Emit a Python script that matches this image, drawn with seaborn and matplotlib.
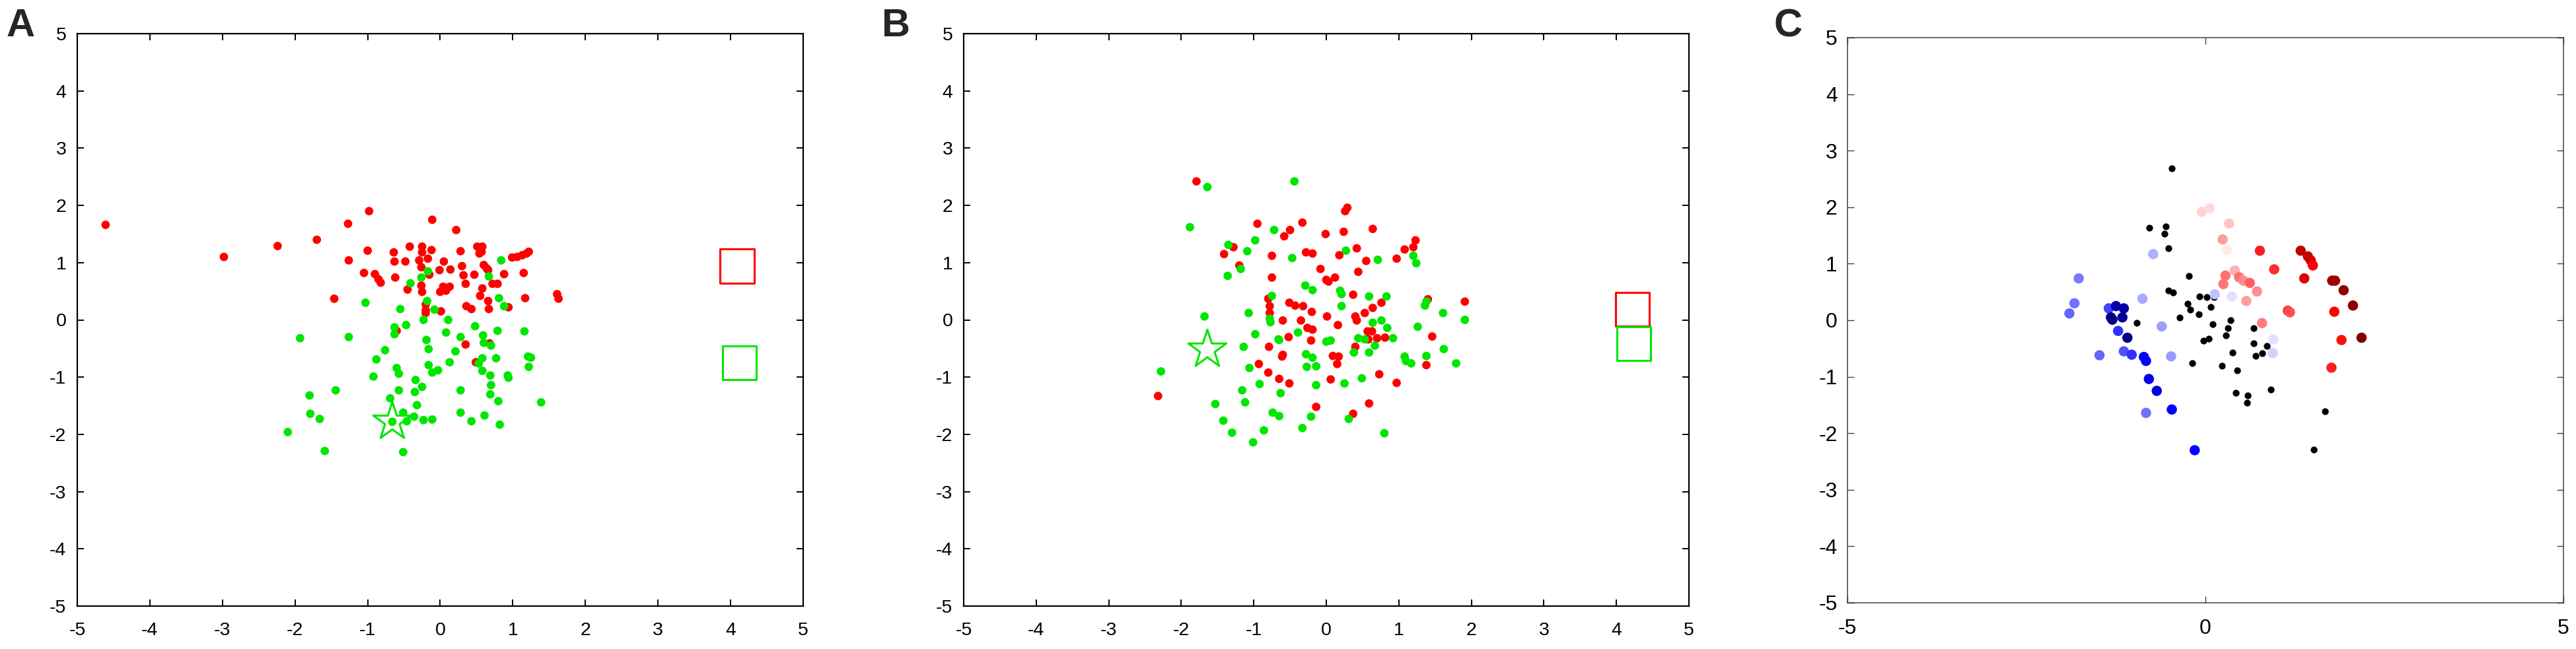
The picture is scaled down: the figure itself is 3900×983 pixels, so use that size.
import numpy as np
import pandas as pd
import matplotlib
matplotlib.use("Agg")
import matplotlib.pyplot as plt
import seaborn as sns

# ---------------- Panel A data ----------------
a_red_x = [-4.61, -2.98, -2.24, -1.70, -1.46, -1.27, -1.26, -0.98, -1.00, -1.05, -0.90, -0.85, -0.82,
           -0.64, -0.63, -0.62, -0.48, -0.45, -0.42, -0.29, -0.25, -0.25, -0.26, -0.26, -0.25, -0.20,
           -0.20, -0.20, -0.17, -0.12, -0.11, -0.15, -0.01, 0.00, 0.04, 0.05, 0.08, 0.13, 0.14, 0.01,
           0.22, 0.28, 0.30, 0.32, 0.35, 0.36, 0.43, 0.47, 0.51, 0.54, 0.58, 0.57, 0.55, 0.58, 0.60,
           0.64, 0.66, 0.66, 0.67, 0.72, 0.79, 0.88, 0.94, 0.99, 1.06, 1.13, 1.19, 1.22, 1.15, 1.17,
           1.61, 1.63, -0.60, 0.35, 0.49, 0.68]
a_red_y = [1.66, 1.10, 1.29, 1.40, 0.37, 1.68, 1.04, 1.90, 1.21, 0.82, 0.80, 0.71, 0.65,
           1.18, 1.02, 0.74, 1.02, 0.53, 1.28, 1.04, 1.28, 1.18, 0.92, 0.60, 0.49, 0.27,
           0.17, 0.12, 1.07, 1.22, 1.75, 0.79, 0.87, 0.49, 0.58, 1.02, 0.51, 0.58, 0.88, 0.15,
           1.57, 1.20, 0.94, 0.78, 0.63, 0.24, 0.19, 0.79, 1.28, 1.16, 1.28, 1.19, 0.42, 0.55, 0.96,
           0.90, 0.87, 0.33, 0.19, 0.63, 0.63, 0.80, 0.22, 1.09, 1.10, 1.13, 1.16, 1.19, 0.82, 0.38,
           0.45, 0.37, -0.19, -0.43, -0.74, -0.41]
a_green_x = [0.84, -0.17, -0.26, -0.41, -0.18, -1.03, -0.55, -0.08, 0.67, 0.81, 0.88, -0.23, 0.11,
             -0.47, -0.63, -0.63, -1.93, -1.26, -0.19, -0.16, 0.08, 0.28, 0.48, 0.59, 0.60, 0.70,
             0.79, 1.16, -0.76, -0.88, 0.21, 0.13, 0.77, 0.58, 0.53, 1.21, 1.25, 1.22, -0.16, -0.03,
             -0.11, 0.58, 0.69, -0.92, -0.60, -0.57, 0.93, 0.94, -0.34, 0.70, -0.25, -0.35, -0.57,
             0.28, 0.69, -1.44, -1.80, -0.69, -0.32, 0.80, 1.39, -1.79, -1.66, -0.51, -0.36, -0.66,
             -0.46, -0.23, -0.11, 0.28, 0.43, 0.61, 0.82, -2.10, -1.59, -0.51]
a_green_y = [1.04, 0.85, 0.74, 0.64, 0.33, 0.30, 0.19, 0.18, 0.76, 0.38, 0.24, 0.00, 0.00,
             -0.09, -0.13, -0.25, -0.32, -0.30, -0.35, -0.51, -0.22, -0.30, -0.11, -0.27, -0.40, -0.45,
             -0.19, -0.20, -0.53, -0.69, -0.55, -0.74, -0.67, -0.67, -0.76, -0.64, -0.66, -0.82, -0.79, -0.88,
             -0.92, -0.89, -0.97, -0.99, -0.84, -0.94, -0.97, -1.01, -1.05, -1.14, -1.17, -1.26, -1.23,
             -1.23, -1.30, -1.23, -1.32, -1.37, -1.49, -1.42, -1.44, -1.64, -1.73, -1.62, -1.69, -1.78,
             -1.77, -1.75, -1.74, -1.62, -1.77, -1.67, -1.83, -1.96, -2.29, -2.31]
a_star = (-0.66, -1.78)
a_red_square = (4.09, 0.94)
a_green_square = (4.12, -0.75)

# ---------------- Panel B data ----------------
b_red_x = [-1.79, -2.32, -1.41, -1.28, -1.20, -0.95, -0.75, -0.75, -0.80, -0.78, -0.78, -0.79, -0.93,
           -0.80, -0.65, -0.51, -0.61, -0.60, -0.60, -0.58, -0.50, -0.51, -0.43, -0.52, -0.35, -0.33,
           -0.28, -0.19, -0.32, -0.26, -0.20, -0.19, -0.21, -0.14, -0.08, -0.01, 0.00, 0.03, 0.01,
           0.12, 0.09, 0.17, 0.15, 0.16, 0.06, 0.18, 0.24, 0.26, 0.29, 0.37, 0.37, 0.40, 0.42, 0.40,
           0.42, 0.44, 0.53, 0.55, 0.57, 0.63, 0.58, 0.64, 0.64, 0.59, 0.70, 0.73, 0.76, 0.81, 0.97,
           0.97, 1.08, 1.20, 1.23, 1.40, 1.46, 1.38, 1.91]
b_red_y = [2.42, -1.33, 1.15, 1.27, 0.95, 1.68, 1.12, 0.74, 0.37, 0.24, 0.12, -0.47, -0.77,
           -0.92, -1.03, -1.11, -0.64, -0.61, -0.01, 1.46, 1.57, 0.30, 0.25, -0.30, -0.01, 1.70,
           1.18, 1.16, 0.24, -0.14, 0.14, -0.17, -0.36, -1.52, 0.89, 1.50, 0.70, 0.67, 0.06,
           0.74, -0.63, -0.64, -0.77, -0.09, -1.04, 1.13, 1.54, 1.90, 1.96, 0.44, -1.64, 0.06, -0.01, -0.47,
           1.25, 0.84, 0.12, 1.03, -0.20, -0.20, -0.34, 0.21, 1.59, -1.46, -0.32, -0.95, 0.30, -0.31, 1.07,
           -1.10, 1.23, 1.27, 1.39, 0.36, -0.29, -0.79, 0.32]
b_green_x = [-0.44, -1.64, -1.88, -1.35, -1.09, -1.18, -1.36, -0.98, -0.72, -0.47, -0.75, -0.29, -0.19,
             0.27, 0.19, 0.21, 0.21, 0.71, 1.20, 1.24, 0.59, 0.83, -1.68, -1.07, -0.78, -0.77, -0.39,
             -0.66, -0.65, -1.14, -0.98, -1.06, -2.28, -0.28, -0.19, -0.27, -0.14, 0.00, 0.06, 0.38,
             0.44, 0.53, 0.59, 0.67, 0.64, 0.76, 0.84, 0.92, 1.26, 1.08, 1.10, 1.17, 1.38, 1.36, 1.38,
             1.61, 1.62, 1.79, 1.91, -0.92, -1.16, -0.63, -1.12, -1.53, -0.74, -0.65, -0.14, 0.25, 0.49,
             -0.21, -0.33, 0.31, -1.42, -1.30, -0.86, -1.01, 0.80]
b_green_y = [2.42, 2.32, 1.62, 1.31, 1.20, 0.89, 0.77, 1.39, 1.57, 1.08, 0.42, 0.60, 0.52,
             1.21, 0.51, 0.45, 0.24, 1.05, 1.12, 0.99, 0.41, 0.41, 0.06, 0.12, 0.02, -0.04, -0.22,
             -0.34, -0.35, -0.47, -0.25, -0.84, -0.90, -0.60, -0.66, -0.82, -0.81, -0.38, -0.36, -0.57,
             -0.32, -0.34, -0.57, -0.45, -0.05, -0.01, -0.14, -0.32, -0.12, -0.64, -0.72, -0.76, -0.63, 0.25, 0.32,
             0.12, -0.51, -0.76, 0.00, -1.12, -1.23, -1.28, -1.44, -1.47, -1.62, -1.68, -1.14, -1.11, -1.02,
             -1.69, -1.89, -1.73, -1.76, -1.97, -1.93, -2.14, -1.98]
b_star = (-1.64, -0.52)
b_red_square = (4.22, 0.18)
b_green_square = (4.24, -0.41)

# ---------------- Panel C data ----------------
c_black_x = [-0.47, -0.78, -0.55, -0.57, -0.52, -0.23, -0.52, -0.45, -0.08, 0.02, 0.12, -0.25, -0.21,
             0.07, -0.09, -0.36, -0.96, 0.10, 0.35, 0.31, 0.67, -0.03, 0.05, 0.29, 0.67, 0.86, 0.38,
             0.79, 0.70, -0.18, 0.23, 0.44, 0.91, 0.42, 0.59, 0.58, 1.67, 1.51]
c_black_y = [2.69, 1.64, 1.66, 1.53, 1.27, 0.78, 0.52, 0.49, 0.42, 0.41, 0.41, 0.29, 0.19,
             0.23, 0.10, 0.05, -0.05, -0.07, 0.00, -0.14, -0.14, -0.36, -0.33, -0.27, -0.41, -0.46, -0.57,
             -0.58, -0.63, -0.76, -0.81, -0.89, -1.23, -1.29, -1.33, -1.46, -1.61, -2.29]
c_col_x = [-1.77, -1.83, -1.90, -1.48, -1.35, -1.25, -1.14, -1.32, -1.30, -1.16, -1.22, -1.09, -1.14,
           -1.03, -0.86, -0.83, -0.79, -0.68, -0.47, -0.83, -0.15, -0.73, -0.88, -0.61, -0.48, 0.13,
           0.37, 0.95, 0.94,
           -0.05, 0.06, 0.33, 0.24, 0.30, 0.76, 0.96, 0.41, 0.28, 0.25, 0.47, 0.53, 0.62, 0.72, 0.57,
           0.79, 1.15, 1.18, 1.33, 1.43, 1.47, 1.50, 1.38, 1.77, 1.81, 1.93, 2.06, 1.80, 2.18, 1.90, 1.76]
c_col_y = [0.74, 0.30, 0.12, -0.62, 0.21, 0.25, 0.21, 0.05, 0.01, 0.05, -0.19, -0.31, -0.55,
           -0.61, -0.65, -0.72, -1.04, -1.25, -1.58, -1.64, -2.30, 1.17, 0.38, -0.11, -0.64, 0.46,
           0.42, -0.34, -0.58,
           1.92, 1.98, 1.71, 1.43, 1.24, 1.23, 0.90, 0.88, 0.79, 0.64, 0.76, 0.70, 0.66, 0.51, 0.34,
           -0.05, 0.17, 0.14, 1.23, 1.13, 1.06, 0.97, 0.74, 0.70, 0.70, 0.53, 0.26, 0.15, -0.31, -0.35, -0.84]
c_col_val = [-0.26, -0.28, -0.30, -0.30, -0.375, -0.72, -0.77, -0.81, -0.86, -0.77, -0.40, -0.86, -0.34,
             -0.40, -0.50, -0.50, -0.56, -0.59, -0.50, -0.28, -0.50, -0.155, -0.17, -0.19, -0.20, -0.125,
             -0.06, -0.06, -0.09,
             0.09, 0.075, 0.11, 0.19, 0.045, 0.44, 0.41, 0.155, 0.28, 0.265, 0.28, 0.22, 0.31, 0.22, 0.19,
             0.25, 0.375, 0.34, 0.75, 0.72, 0.68, 0.50, 0.62, 0.87, 0.87, 0.94, 0.94, 0.50, 1.00, 0.47, 0.44]

ticks_full = [-5, -4, -3, -2, -1, 0, 1, 2, 3, 4, 5]
ticks_c_x = [-5, 0, 5]

RED = "#ff0000"
GREEN = "#00e600"

# ---------------- style ----------------
sns.set_theme(style="white")
plt.rcParams["font.family"] = ["Liberation Sans", "DejaVu Sans"]

W, H = 3900, 983
fig = plt.figure(figsize=(W / 100, H / 100), dpi=100)

axA = fig.add_axes([117 / W, (H - 918) / H, 1099 / W, 867 / H])
axB = fig.add_axes([1459 / W, (H - 918) / H, 1098 / W, 867 / H])
axC = fig.add_axes([2797 / W, (H - 913) / H, 1084 / W, 856 / H])


def panel_ab(ax, rx, ry, gx, gy, star, rsq, gsq):
    df = pd.DataFrame({
        "x": list(rx) + list(gx),
        "y": list(ry) + list(gy),
        "group": ["red"] * len(rx) + ["green"] * len(gx),
    })
    sns.scatterplot(data=df, x="x", y="y", hue="group", palette={"red": RED, "green": GREEN},
                    s=85, linewidth=0, legend=False, ax=ax, zorder=3)
    ax.scatter([star[0]], [star[1]], marker="*", s=1900, facecolors="none",
               edgecolors=GREEN, linewidths=2.2, zorder=4)
    ax.scatter([rsq[0]], [rsq[1]], marker="s", s=1350, facecolors="none",
               edgecolors=RED, linewidths=2.2, zorder=4)
    ax.scatter([gsq[0]], [gsq[1]], marker="s", s=1350, facecolors="none",
               edgecolors=GREEN, linewidths=2.2, zorder=4)
    ax.set_xlim(-5, 5)
    ax.set_ylim(-5, 5)
    ax.set_xticks(ticks_full)
    ax.set_yticks(ticks_full)
    ax.set_xticklabels([str(t) for t in ticks_full])
    ax.set_yticklabels([str(t) for t in ticks_full])
    ax.set_xlabel("")
    ax.set_ylabel("")
    for sp in ax.spines.values():
        sp.set_color("black")
        sp.set_linewidth(1.6)
        sp.set_visible(True)
    ax.tick_params(axis="both", which="both", direction="in", length=7.5, width=1.4,
                   color="black", top=True, right=True, bottom=True, left=True,
                   labelsize=20.5, labelcolor="black")
    ax.tick_params(axis="x", pad=17)
    ax.tick_params(axis="y", pad=12)
    ax.set_facecolor("white")


panel_ab(axA, a_red_x, a_red_y, a_green_x, a_green_y, a_star, a_red_square, a_green_square)
panel_ab(axB, b_red_x, b_red_y, b_green_x, b_green_y, b_star, b_red_square, b_green_square)

# ---------------- Panel C ----------------
dfb = pd.DataFrame({"x": c_black_x, "y": c_black_y})
sns.scatterplot(data=dfb, x="x", y="y", color="black", s=55, linewidth=0, ax=axC, zorder=3)
dfc = pd.DataFrame({"x": c_col_x, "y": c_col_y, "v": c_col_val})
sns.scatterplot(data=dfc, x="x", y="y", hue="v", palette="seismic", hue_norm=(-1, 1),
                s=125, linewidth=0, legend=False, ax=axC, zorder=4)
axC.set_xlim(-5, 5)
axC.set_ylim(-5, 5)
axC.set_xticks(ticks_c_x)
axC.set_yticks(ticks_full)
axC.set_xticklabels([str(t) for t in ticks_c_x])
axC.set_yticklabels([str(t) for t in ticks_full])
axC.set_xlabel("")
axC.set_ylabel("")
for sp in axC.spines.values():
    sp.set_color("#404040")
    sp.set_linewidth(1.1)
    sp.set_visible(True)
axC.tick_params(axis="both", which="both", direction="in", length=7.5, width=1.0,
                color="#404040", top=True, right=True, bottom=True, left=True,
                labelsize=23, labelcolor="black")
axC.tick_params(axis="x", pad=17)
axC.tick_params(axis="y", pad=11)

# ---------------- panel letters ----------------
fig.text(10 / W, 1 - 12 / H, "A", fontsize=43, fontweight="bold", ha="left", va="top")
fig.text(1335 / W, 1 - 12 / H, "B", fontsize=43, fontweight="bold", ha="left", va="top")
fig.text(2685 / W, 1 - 12 / H, "C", fontsize=43, fontweight="bold", ha="left", va="top")

fig.savefig("out.png", dpi=100, facecolor="white")
